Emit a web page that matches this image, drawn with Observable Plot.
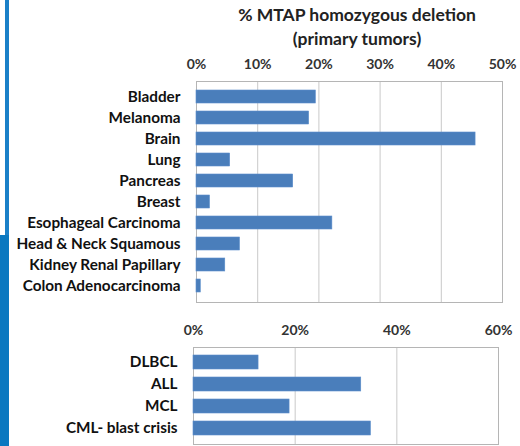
<!DOCTYPE html>
<html><head><meta charset="utf-8">
<script src="https://cdn.jsdelivr.net/npm/d3@7"></script>
<script src="https://cdn.jsdelivr.net/npm/@observablehq/plot@0.6"></script>
<style>
body{margin:0;background:#fff;width:520px;height:446px;overflow:hidden;position:relative;font-family:Lato,sans-serif}
#title{position:absolute;left:196px;width:322px;top:3px;text-align:center;font-weight:bold;font-size:17.5px;line-height:24px;color:#222}
#top{position:absolute;left:0;top:0}
#bot{position:absolute;left:0;top:310px}
.edge1{position:absolute;left:5px;top:0;width:4px;height:235px;background:#1a80c8}
.edge2{position:absolute;left:0;top:235px;width:9px;height:211px;background:#0a78c0}
</style></head>
<body>
<div class="edge1"></div><div class="edge2"></div>
<div id="title">% MTAP homozygous deletion<br>(primary tumors)</div>
<div id="top"></div>
<div id="bot"></div>
<script>
const solidTumors = ["Bladder","Melanoma","Brain","Lung","Pancreas","Breast","Esophageal Carcinoma","Head & Neck Squamous","Kidney Renal Papillary","Colon Adenocarcinoma"];
const solidValues = [19.5, 18.4, 45.6, 5.5, 15.8, 2.2, 22.2, 7.1, 4.7, 0.7];
const solidTicks = [0, 10, 20, 30, 40, 50];

const hemeTumors = ["DLBCL","ALL","MCL","CML- blast crisis"];
const hemeValues = [12.8, 33.0, 18.9, 34.9];
const hemeTicks = [0, 20, 40, 60];

const barColor = "#4a7ebb";
const fmt = d => d + "%";
const labelStyle = {fontFamily: "Lato, sans-serif", fontWeight: "bold"};

function chart(cats, vals, ticks, opts) {
  const data = cats.map((c, i) => ({cat: c, v: vals[i]}));
  return Plot.plot({
    width: 520,
    height: opts.height,
    marginLeft: opts.left,
    marginRight: opts.right,
    marginTop: opts.top,
    marginBottom: opts.bottom,
    style: {background: "transparent", fontFamily: "Lato, sans-serif"},
    x: {domain: [ticks[0], ticks[ticks.length - 1]]},
    y: {domain: cats, padding: opts.padding},
    marks: [
      Plot.gridX(ticks, {stroke: "#c9c9c9", strokeOpacity: 1}),
      Plot.frame({stroke: "#b5b5b5"}),
      Plot.barX(data, {x: "v", y: "cat", fill: barColor, stroke: "#5a8dcb", strokeWidth: 0.6}),
      Plot.axisX({anchor: "top", ticks: ticks, tickFormat: fmt, tickSize: 0, tickPadding: opts.xPad, fontSize: 14, fill: "#333", label: null, ...labelStyle}),
      Plot.axisY({anchor: "left", tickSize: 0, tickPadding: 16, fontSize: 15.3, fill: "#111", label: null, ...labelStyle})
    ]
  });
}

document.getElementById("top").append(chart(solidTumors, solidValues, solidTicks,
  {height: 310, left: 196, right: 18, top: 81, bottom: 8, padding: 0.36, xPad: 13}));
document.getElementById("bot").append(chart(hemeTumors, hemeValues, hemeTicks,
  {height: 136, left: 193, right: 22, top: 37, bottom: 2, padding: 0.36, xPad: 13}));
</script>
</body></html>
